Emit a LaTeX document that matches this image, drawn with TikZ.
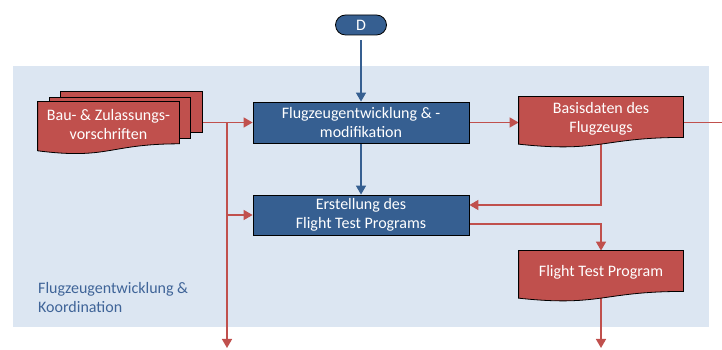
\documentclass[tikz,border=0pt]{standalone}
\usepackage{fontspec}
\setmainfont{Carlito}
\usetikzlibrary{arrows.meta}
\makeatletter
\newdimen\docXa \newdimen\docXb \newdimen\docXc
\newdimen\docTop \newdimen\docR \newdimen\docC \newdimen\docL \newdimen\docH
\pgfdeclareshape{docwave}{%
  \inheritsavedanchors[from=rectangle]%
  \inheritanchorborder[from=rectangle]%
  \inheritanchor[from=rectangle]{center}%
  \inheritanchor[from=rectangle]{north}%
  \inheritanchor[from=rectangle]{south}%
  \inheritanchor[from=rectangle]{east}%
  \inheritanchor[from=rectangle]{west}%
  \inheritanchor[from=rectangle]{north east}%
  \inheritanchor[from=rectangle]{north west}%
  \inheritanchor[from=rectangle]{south east}%
  \inheritanchor[from=rectangle]{south west}%
  \inheritanchor[from=rectangle]{text}%
  \inheritanchor[from=rectangle]{base}%
  \inheritanchor[from=rectangle]{mid}%
  \backgroundpath{%
    \southwest \docXa=\pgf@x \docH=\pgf@y
    \northeast \docXb=\pgf@x \docTop=\pgf@y
    \docXc=.5\docXa \advance\docXc by .5\docXb
    \docH=-\docH \advance\docH by \docTop
    \docR=\docTop \advance\docR by -.922\docH
    \docC=\docTop \advance\docC by -1.273\docH
    \docL=\docTop \advance\docL by -1.074\docH
    \pgfpathmoveto{\pgfqpoint{\docXa}{\docTop}}%
    \pgfpathlineto{\pgfqpoint{\docXb}{\docTop}}%
    \pgfpathlineto{\pgfqpoint{\docXb}{\docR}}%
    \pgfpathcurveto{\pgfqpoint{\docXc}{\docR}}{\pgfqpoint{\docXc}{\docC}}{\pgfqpoint{\docXa}{\docL}}%
    \pgfpathclose
  }%
}
\makeatother
\definecolor{panelc}{HTML}{DCE6F2}
\definecolor{bluec}{HTML}{365F91}
\definecolor{redc}{HTML}{C0504D}
\definecolor{labelc}{HTML}{3F6498}
\pgfdeclarelayer{bg}
\pgfdeclarelayer{edges}
\pgfsetlayers{bg,edges,main}
\tikzset{
  txt/.style={font=\fontsize{16}{19.5}\selectfont, text=white, align=center, inner sep=1pt},
  bluebox/.style={txt, rectangle, fill=bluec, draw=black, line width=0.8pt, minimum width=216pt, minimum height=41pt},
  reddoc/.style={txt, shape=docwave, fill=redc, draw=black, line width=0.8pt, minimum width=164pt, minimum height=43.5pt},
  redpage/.style={rectangle, fill=redc, draw=black, line width=0.8pt, minimum width=142pt, minimum height=41pt, inner sep=0pt},
  terminal/.style={txt, rectangle, rounded corners=10pt, fill=bluec, draw=black, line width=0.8pt, minimum width=51pt, minimum height=20pt},
  redline/.style={draw=redc, line width=1.5pt},
  blueline/.style={draw=bluec, line width=1.5pt},
  tip/.style={-{Triangle[length=9pt,width=10pt]}},
}
\begin{document}
\begin{tikzpicture}[x=1pt,y=1pt]
\useasboundingbox (0,0) rectangle (722,350);
\begin{pgfonlayer}{bg}
  \fill[panelc] (13,23) rectangle (709,284);
\end{pgfonlayer}

\node[terminal] (D) at (361,325) {D};
\node[bluebox] (dev) at (361,227.5) {Flugzeugentwicklung \& -\\modifikation};
\node[bluebox, minimum height=40pt] (ftp) at (361,135) {Erstellung des\\Flight Test Programs};

\node[redpage] (bau3) at (131,238.5) {};
\node[redpage, minimum width=141pt] (bau2) at (119.5,232.5) {};
\node[reddoc, minimum width=141pt, minimum height=45pt] (bau) at (108.5,225.5) {Bau- \& Zulassungs-\\vorschriften};

\node[reddoc] (basis) at (601,231.25) {Basisdaten des\\Flugzeugs};
\node[reddoc] (prog) at (601,77.25) {Flight Test Program};

\node[font=\fontsize{16}{19}\selectfont, text=labelc, align=left, anchor=west, inner sep=0pt] (lab) at (38,52.5) {Flugzeugentwicklung \&\\Koordination};

\coordinate (j1) at (227,0);
\coordinate (bot1) at (227,2);
\coordinate (bot2) at (601,2);
\coordinate (out) at (722,0);
\coordinate (in2) at ([yshift=10pt]ftp.east);
\coordinate (out2) at ([yshift=-9pt]ftp.east);

\begin{pgfonlayer}{edges}
  \draw[blueline, tip, shorten <=5pt] (D.south) -- (dev.north);
  \draw[blueline, tip] (dev.south) -- (ftp.north);
  \draw[redline, tip] (bau3.east |- dev.west) -- (dev.west);
  \draw[redline, tip] (j1 |- dev.west) -- (bot1);
  \draw[redline, tip] (j1 |- ftp.west) -- (ftp.west);
  \draw[redline, tip] (dev.east) -- (basis.west |- dev.east);
  \draw[redline] (basis.east |- dev.east) -- (out |- dev.east);
  \draw[redline, tip] (basis.south) |- (in2);
  \draw[redline, tip] (out2) -| (prog.north);
  \draw[redline, tip] (prog.south) -- (bot2);
\end{pgfonlayer}
\end{tikzpicture}
\end{document}
